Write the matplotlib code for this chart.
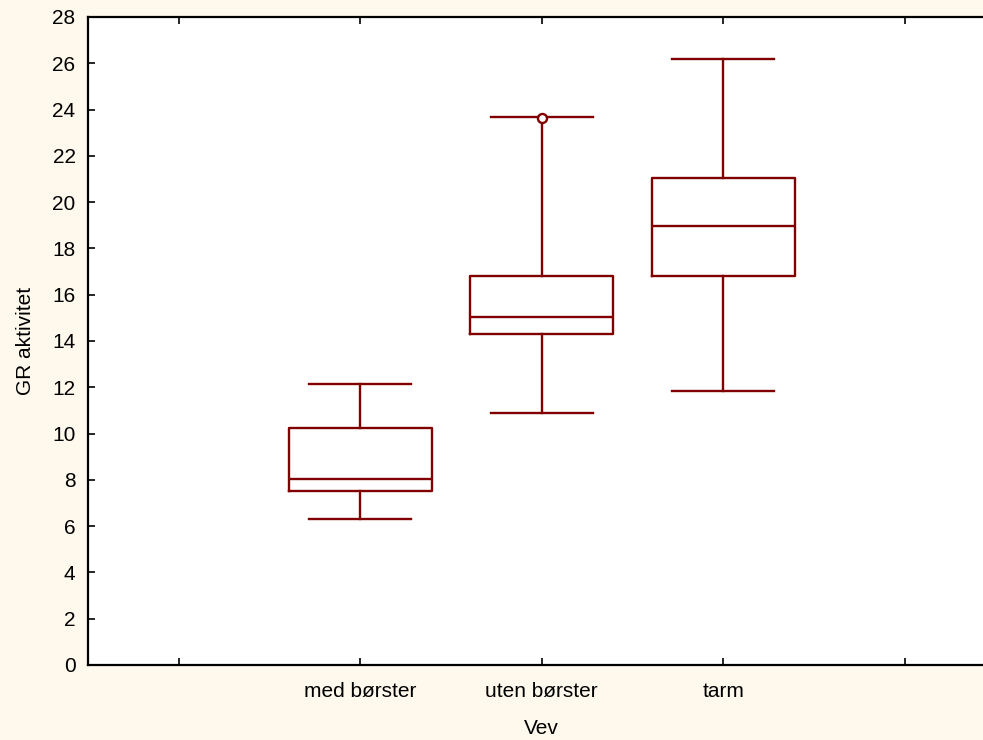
import matplotlib
matplotlib.use("Agg")
import matplotlib.pyplot as plt

# values
groups = ["med børster", "uten børster", "tarm"]
whisker_lo = [6.3, 10.9, 11.85]
q1 = [7.5, 14.3, 16.8]
median = [8.05, 15.05, 18.95]
q3 = [10.25, 16.8, 21.05]
whisker_hi = [12.15, 23.7, 26.2]
outliers = [[], [23.65], []]

y_ticks = list(range(0, 29, 2))

dark_red = "#800000"
bg = "#FEF9EC"

plt.rcParams['font.family'] = ['Liberation Sans', 'DejaVu Sans']

fig = plt.figure(figsize=(9.83, 7.40), dpi=100, facecolor=bg)
# right spine runs past the figure edge in the reference
ax = fig.add_axes([88 / 983, 1 - 665 / 740, 907.5 / 983, 648 / 740])
ax.set_facecolor("white")

stats = []
for i, name in enumerate(groups):
    stats.append({"label": name, "whislo": whisker_lo[i], "q1": q1[i],
                  "med": median[i], "q3": q3[i], "whishi": whisker_hi[i],
                  "fliers": outliers[i]})

line = dict(color=dark_red, linewidth=1.7)
ax.bxp(stats, positions=[1, 2, 3], widths=0.79, capwidths=0.56,
       boxprops=line, whiskerprops=line, capprops=line, medianprops=line,
       flierprops=dict(marker="o", markersize=6.5, markerfacecolor="white",
                       markeredgecolor=dark_red, markeredgewidth=1.7),
       manage_ticks=False)

ax.set_xlim(-0.5, 4.5)
ax.set_ylim(0, 28)
ax.set_xticks([0, 1, 2, 3, 4])
ax.set_xticklabels([""] + groups + [""])
ax.set_yticks(y_ticks)

for s in ax.spines.values():
    s.set_linewidth(1.6)
    s.set_color("black")

ax.tick_params(axis="both", direction="in", length=5, width=1.2,
               labelsize=15, top=True, right=True)
ax.tick_params(axis="y", pad=9)
ax.tick_params(axis="x", pad=12)

ax.set_xlabel("Vev", fontsize=15, labelpad=13)
ax.set_ylabel("GR aktivitet", fontsize=15, labelpad=12)

fig.savefig("out.png", dpi=100, facecolor=bg)
